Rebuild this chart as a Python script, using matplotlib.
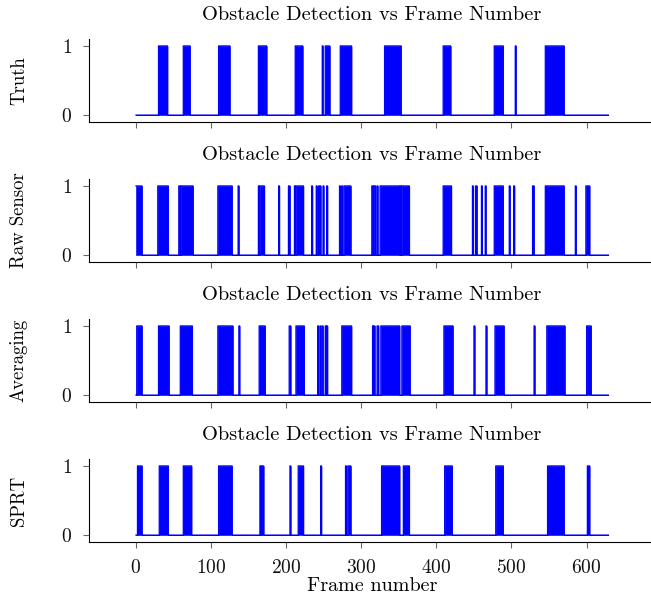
import numpy as np
import matplotlib
matplotlib.use("Agg")
import matplotlib.pyplot as plt

# frames with obstacle flag = 1, as (start, end) frame intervals
truth = [(30, 42), (63, 72), (110, 125), (163, 174), (212, 222), (248, 249),
         (252, 258), (272, 287), (331, 353), (409, 419), (477, 489), (505, 506),
         (545, 570)]

raw_sensor = [(0, 8), (29, 43), (57, 59), (60, 76), (109, 128), (136, 137),
              (163, 164), (165, 171), (190, 191), (203, 205), (211, 212), (213, 223),
              (234, 235), (240, 241), (243, 246), (249, 250), (254, 255), (271, 272),
              (274, 275), (277, 286), (314, 316), (317, 319), (321, 322), (325, 351),
              (352, 353), (354, 364), (409, 420), (448, 449), (452, 454), (460, 461),
              (465, 466), (477, 489), (497, 498), (503, 504), (528, 530), (545, 570),
              (585, 586), (599, 604)]

averaging = [(1, 8), (30, 44), (59, 75), (109, 129), (137, 138), (164, 172),
             (204, 206), (213, 224), (242, 243), (245, 246), (248, 249), (252, 253),
             (254, 255), (274, 287), (315, 316), (317, 318), (321, 323), (326, 351),
             (354, 365), (410, 422), (450, 451), (466, 467), (478, 490), (530, 531),
             (547, 571), (600, 606)]

sprt = [(2, 8), (31, 43), (63, 74), (110, 128), (165, 166), (167, 170),
        (205, 206), (216, 223), (246, 247), (279, 280), (282, 286), (327, 351),
        (356, 364), (411, 421), (479, 489), (548, 570), (601, 604)]

series = [("Truth", truth), ("Raw Sensor", raw_sensor),
          ("Averaging", averaging), ("SPRT", sprt)]

n_frames = 629
frames = np.arange(n_frames + 1)

plt.rcParams['font.family'] = ['cmr10', 'DejaVu Serif']
plt.rcParams['axes.formatter.use_mathtext'] = True
plt.rcParams['font.size'] = 12

fig = plt.figure(figsize=(6.51, 5.98), dpi=100)
W, H = 651, 598

for i, (name, intervals) in enumerate(series):
    top = 39 + 140 * i
    ax = fig.add_axes([88.8 / W, 1 - (top + 83) / H, 566 / W, 83 / H])
    sig = np.zeros(n_frames + 1)
    for s, e in intervals:
        sig[s:e] = 1
    ax.fill_between(frames, sig, step='post', facecolor='blue',
                    edgecolor='blue', lw=0.4)
    ax.step(frames, sig, where='post', color='blue', lw=0.9)
    ax.set_xlim(-62.8, 690.8)
    ax.set_ylim(-0.1, 1.1)
    ax.set_yticks([0, 1])
    ax.set_xticks(range(0, 700, 100))
    if i < 3:
        ax.set_xticklabels([])
    else:
        ax.set_xlabel("Frame number", fontsize=14.5, labelpad=0)
    ax.spines['top'].set_visible(False)
    ax.spines['right'].set_visible(False)
    ax.tick_params(direction='out', length=4, width=0.8, color='#666666',
                   labelcolor='#111111', labelsize=14)
    ax.tick_params(axis='x', pad=8)
    ax.tick_params(axis='y', pad=8)
    ax.set_title("Obstacle Detection vs Frame Number", fontsize=14.7, pad=14)
    ax.set_ylabel(name, fontsize=13.5, labelpad=24)

fig.savefig("out.png", dpi=100)
